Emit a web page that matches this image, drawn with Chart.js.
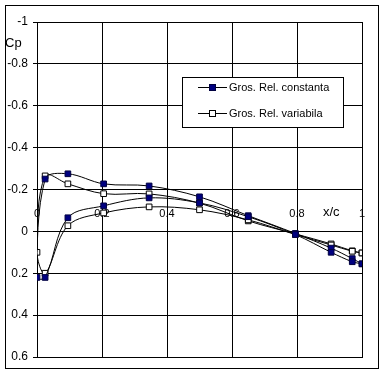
<!DOCTYPE html>
<html>
<head>
<meta charset="utf-8">
<script src="https://cdn.jsdelivr.net/npm/chart.js@4/dist/chart.umd.min.js"></script>
<style>
    html, body { margin: 0; padding: 0; background: #fff; }
    #wrap { width: 386px; height: 376px; }
</style>
</head>
<body>
<div id="wrap"><canvas id="cp-chart" width="386" height="376"></canvas></div>
<script>
// Pozitii x/c (extrados de la bordul de fuga la bordul de atac, apoi intrados)
const xc = [1, 0.97, 0.905, 0.795, 0.65, 0.5, 0.345, 0.205, 0.095, 0.025, 0,
            0.025, 0.095, 0.205, 0.345, 0.5, 0.65, 0.795, 0.905, 0.97, 1];

// Cp - grosime relativa constanta
const cpConstanta = [0.155, 0.13, 0.08, 0.01, -0.075, -0.165, -0.217, -0.227, -0.275, -0.25, 0.22,
                     0.22, -0.065, -0.122, -0.16, -0.136, -0.07, 0.015, 0.1, 0.145, 0.155];

// Cp - grosime relativa variabila
const cpVariabila = [0.103, 0.093, 0.06, 0.012, -0.05, -0.135, -0.179, -0.18, -0.227, -0.265, 0.10,
                     0.20, -0.027, -0.088, -0.117, -0.103, -0.055, 0.015, 0.065, 0.095, 0.103];

const serii = ['Gros. Rel. constanta', 'Gros. Rel. variabila'];
const xTicks = [0, 0.2, 0.4, 0.6, 0.8, 1];

const FAMILIE = 'Arial, "Liberation Sans", sans-serif';
const FONT = '11px ' + FAMILIE;
const FONT_TITLU = '13px ' + FAMILIE;

function puncte(xs, ys) {
    return xs.map(function (x, i) { return { x: x, y: ys[i] }; });
}

function fmt(v) {
    return String(+(Math.round(v * 10) / 10).toFixed(1));
}

// Chenarul exterior, titlurile si etichetele axei x (pe linia Cp = 0)
const decorPlugin = {
    id: 'decor',
    beforeDraw: function (chart) {
        const ctx = chart.ctx;
        ctx.save();
        ctx.fillStyle = '#fff';
        ctx.fillRect(0, 0, chart.width, chart.height);
        ctx.strokeStyle = '#000';
        ctx.lineWidth = 1;
        ctx.strokeRect(5.5, 5.5, 373, 363);
        ctx.restore();
    },
    beforeDatasetsDraw: function (chart) {
        const ctx = chart.ctx;
        const xs = chart.scales.x;
        const ys = chart.scales.y;
        const y0 = ys.getPixelForValue(0);
        ctx.save();
        ctx.font = FONT;
        ctx.fillStyle = '#000';
        ctx.textBaseline = 'middle';
        ctx.textAlign = 'center';
        xTicks.forEach(function (v) {
            ctx.fillText(fmt(v), xs.getPixelForValue(v), y0 - 17);
        });
        ctx.font = FONT_TITLU;
        ctx.textAlign = 'left';
        ctx.fillText('x/c', xs.getPixelForValue(0.88), y0 - 19);
        ctx.fillText('Cp', 5, 43);
        ctx.restore();
    },
    afterDraw: function (chart) {
        // legenda in interiorul graficului
        const ctx = chart.ctx;
        ctx.save();
        ctx.fillStyle = '#fff';
        ctx.fillRect(182.5, 77.5, 161, 50);
        ctx.strokeStyle = '#000';
        ctx.lineWidth = 1;
        ctx.strokeRect(182.5, 77.5, 161, 50);
        ctx.font = FONT;
        ctx.textBaseline = 'middle';
        ctx.textAlign = 'left';
        chart.data.datasets.forEach(function (ds, i) {
            const y = 87 + i * 26;
            ctx.strokeStyle = ds.borderColor;
            ctx.beginPath();
            ctx.moveTo(198, y + 0.5);
            ctx.lineTo(227, y + 0.5);
            ctx.stroke();
            ctx.fillStyle = ds.pointBackgroundColor;
            ctx.fillRect(209.5, y - 2.5, 6, 6);
            ctx.strokeStyle = ds.pointBorderColor;
            ctx.strokeRect(209.5, y - 2.5, 6, 6);
            ctx.fillStyle = '#000';
            ctx.fillText(ds.label, 229, y + 1);
        });
        ctx.restore();
    }
};

const ctx = document.getElementById('cp-chart').getContext('2d');
new Chart(ctx, {
    type: 'scatter',
    data: {
        datasets: [{
            label: serii[0],
            data: puncte(xc, cpConstanta),
            showLine: true,
            tension: 0.35,
            borderColor: '#000',
            borderWidth: 1,
            pointStyle: 'rect',
            pointRadius: 4,
            pointBackgroundColor: '#000080',
            pointBorderColor: '#000040',
            pointBorderWidth: 1
        }, {
            label: serii[1],
            data: puncte(xc, cpVariabila),
            showLine: true,
            tension: 0.35,
            borderColor: '#000',
            borderWidth: 1,
            pointStyle: 'rect',
            pointRadius: 4,
            pointBackgroundColor: '#fff',
            pointBorderColor: '#000',
            pointBorderWidth: 1
        }]
    },
    options: {
        responsive: false,
        animation: false,
        layout: {
            padding: { left: 0, top: 22, right: 24, bottom: 19 }
        },
        scales: {
            x: {
                type: 'linear',
                min: 0,
                max: 1,
                ticks: { display: false, stepSize: 0.2 },
                grid: { color: '#000', lineWidth: 1, drawTicks: false },
                border: { color: '#000' },
                afterFit: function (scale) { scale.height = 0; }
            },
            y: {
                type: 'linear',
                reverse: true,
                min: -1,
                max: 0.6,
                ticks: {
                    stepSize: 0.2,
                    padding: 5,
                    color: '#000',
                    font: { family: FAMILIE, size: 12 },
                    callback: function (v) { return fmt(v); }
                },
                grid: { color: '#000', lineWidth: 1, tickLength: 4 },
                border: { color: '#000' },
                afterFit: function (scale) { scale.width = 37; }
            }
        },
        plugins: {
            legend: { display: false },
            tooltip: { enabled: false }
        }
    },
    plugins: [decorPlugin]
});
</script>
</body>
</html>
